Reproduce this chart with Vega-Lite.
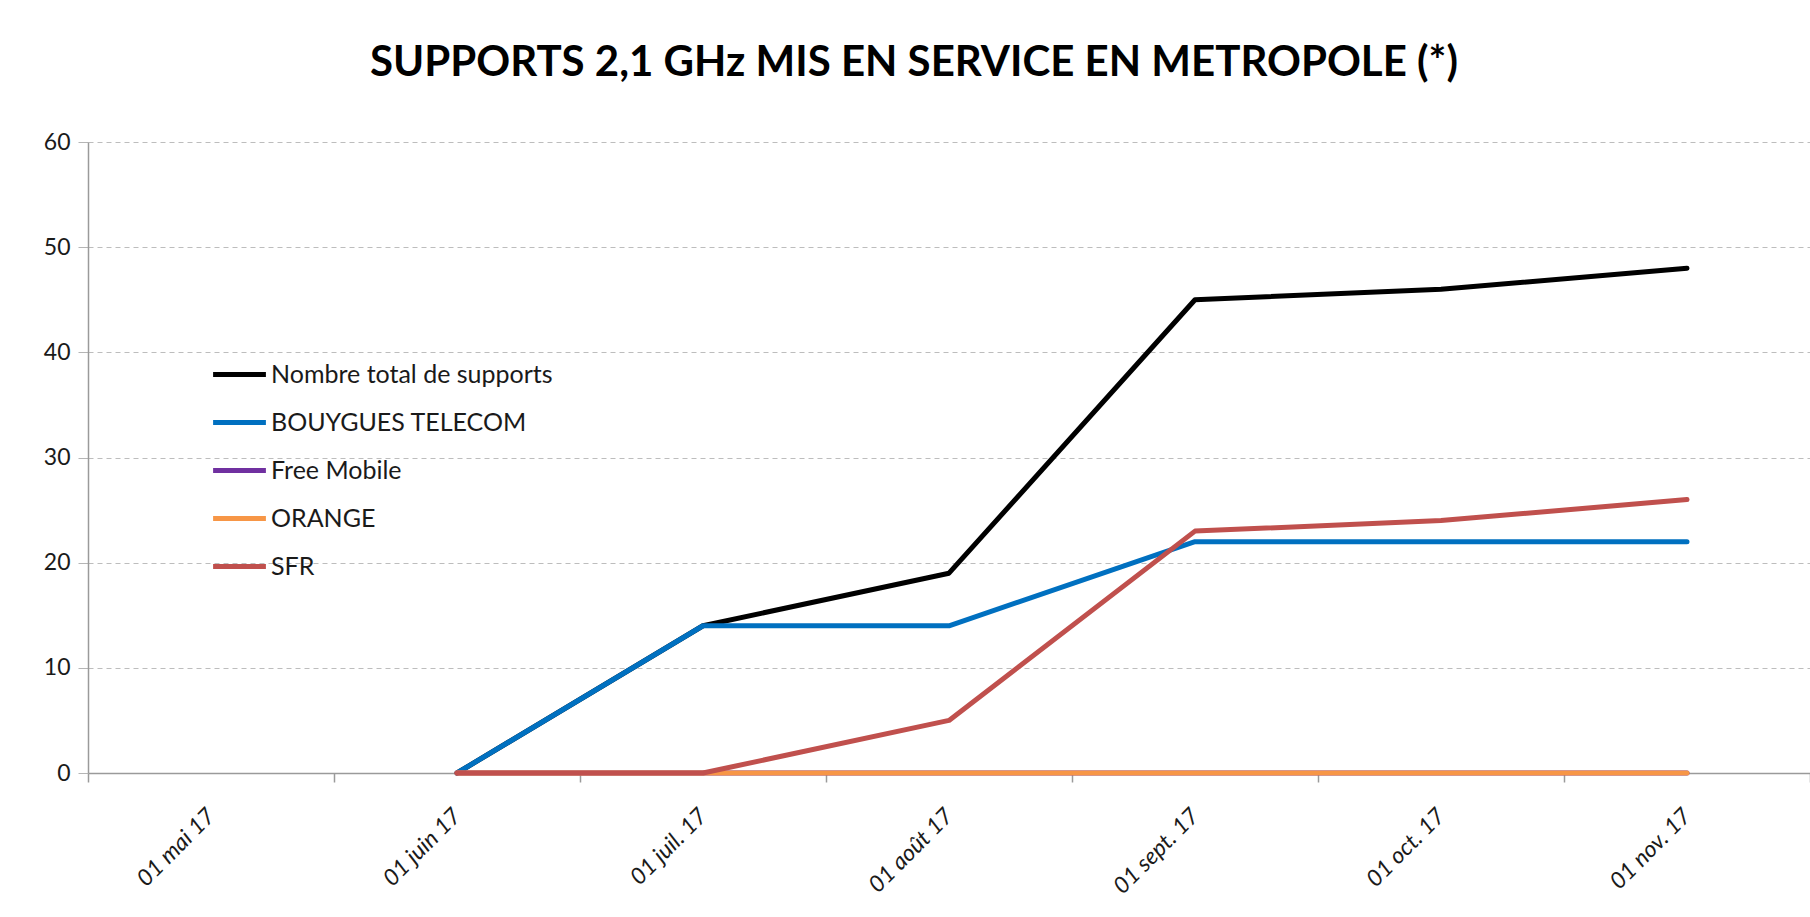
{
  "$schema": "https://vega.github.io/schema/vega-lite/v6.json",
  "autosize": "none",
  "width": 1722,
  "height": 631,
  "padding": {"left": 88, "top": 142, "right": 0, "bottom": 144},
  "background": "white",
  "title": {
    "text": "SUPPORTS 2,1 GHz MIS EN SERVICE EN METROPOLE (*)",
    "font": "Lato",
    "fontSize": 42,
    "fontWeight": "bold",
    "color": "#000000",
    "anchor": "middle",
    "frame": "group",
    "dx": -35,
    "offset": 46
  },
  "data": {
    "values": [
      {"mois": "01 juin 17", "serie": "Nombre total de supports", "valeur": 0},
      {"mois": "01 juil. 17", "serie": "Nombre total de supports", "valeur": 14},
      {"mois": "01 août 17", "serie": "Nombre total de supports", "valeur": 19},
      {"mois": "01 sept. 17", "serie": "Nombre total de supports", "valeur": 45},
      {"mois": "01 oct. 17", "serie": "Nombre total de supports", "valeur": 46},
      {"mois": "01 nov. 17", "serie": "Nombre total de supports", "valeur": 48},
      {"mois": "01 juin 17", "serie": "BOUYGUES TELECOM", "valeur": 0},
      {"mois": "01 juil. 17", "serie": "BOUYGUES TELECOM", "valeur": 14},
      {"mois": "01 août 17", "serie": "BOUYGUES TELECOM", "valeur": 14},
      {"mois": "01 sept. 17", "serie": "BOUYGUES TELECOM", "valeur": 22},
      {"mois": "01 oct. 17", "serie": "BOUYGUES TELECOM", "valeur": 22},
      {"mois": "01 nov. 17", "serie": "BOUYGUES TELECOM", "valeur": 22},
      {"mois": "01 juin 17", "serie": "Free Mobile", "valeur": 0},
      {"mois": "01 juil. 17", "serie": "Free Mobile", "valeur": 0},
      {"mois": "01 août 17", "serie": "Free Mobile", "valeur": 0},
      {"mois": "01 sept. 17", "serie": "Free Mobile", "valeur": 0},
      {"mois": "01 oct. 17", "serie": "Free Mobile", "valeur": 0},
      {"mois": "01 nov. 17", "serie": "Free Mobile", "valeur": 0},
      {"mois": "01 juin 17", "serie": "ORANGE", "valeur": 0},
      {"mois": "01 juil. 17", "serie": "ORANGE", "valeur": 0},
      {"mois": "01 août 17", "serie": "ORANGE", "valeur": 0},
      {"mois": "01 sept. 17", "serie": "ORANGE", "valeur": 0},
      {"mois": "01 oct. 17", "serie": "ORANGE", "valeur": 0},
      {"mois": "01 nov. 17", "serie": "ORANGE", "valeur": 0},
      {"mois": "01 juin 17", "serie": "SFR", "valeur": 0},
      {"mois": "01 juil. 17", "serie": "SFR", "valeur": 0},
      {"mois": "01 août 17", "serie": "SFR", "valeur": 5},
      {"mois": "01 sept. 17", "serie": "SFR", "valeur": 23},
      {"mois": "01 oct. 17", "serie": "SFR", "valeur": 24},
      {"mois": "01 nov. 17", "serie": "SFR", "valeur": 26}
    ]
  },
  "mark": {"type": "line", "strokeWidth": 5, "strokeCap": "round", "strokeJoin": "round"},
  "encoding": {
    "x": {
      "field": "mois",
      "type": "ordinal",
      "sort": null,
      "scale": {
        "type": "band",
        "domain": ["01 mai 17", "01 juin 17", "01 juil. 17", "01 août 17", "01 sept. 17", "01 oct. 17", "01 nov. 17"],
        "paddingInner": 0,
        "paddingOuter": 0
      },
      "axis": {
        "title": null,
        "tickBand": "extent",
        "labelAngle": -45,
        "labelAlign": "right",
        "labelBaseline": "middle",
        "labelFont": "Lato",
        "labelFontStyle": "italic",
        "labelFontSize": 23,
        "labelColor": "#1a1a1a",
        "labelPadding": 30,
        "tickSize": 9,
        "tickColor": "#9a9a9a",
        "tickWidth": 1.5,
        "domainColor": "#9a9a9a",
        "domainWidth": 1.5,
        "grid": false
      }
    },
    "y": {
      "field": "valeur",
      "type": "quantitative",
      "scale": {"domain": [0, 60], "nice": false},
      "axis": {
        "title": null,
        "values": [0, 10, 20, 30, 40, 50, 60],
        "labelFont": "Lato",
        "labelFontSize": 23,
        "labelColor": "#1a1a1a",
        "labelPadding": 8,
        "tickSize": 10,
        "tickColor": "#b5b5b5",
        "domainColor": "#9a9a9a",
        "domainWidth": 1.5,
        "grid": true,
        "gridColor": "#bdbdbd",
        "gridDash": [5, 4],
        "gridWidth": 1
      }
    },
    "color": {
      "field": "serie",
      "type": "nominal",
      "sort": null,
      "scale": {
        "domain": ["Nombre total de supports", "BOUYGUES TELECOM", "Free Mobile", "ORANGE", "SFR"],
        "range": ["#000000", "#0070C0", "#7030A0", "#F79646", "#C0504D"]
      },
      "legend": {
        "title": null,
        "orient": "none",
        "legendX": 125,
        "legendY": 206,
        "direction": "vertical",
        "padding": 0,
        "rowPadding": 8,
        "symbolType": "M-1.1,0H1.1",
        "symbolSize": 2304,
        "symbolStrokeWidth": 5,
        "labelFont": "Lato",
        "labelFontSize": 25,
        "labelLimit": 0,
        "labelColor": "#1a1a1a",
        "labelOffset": 5
      }
    }
  },
  "config": {
    "view": {"stroke": null},
    "axis": {"domainCap": "butt"}
  }
}
